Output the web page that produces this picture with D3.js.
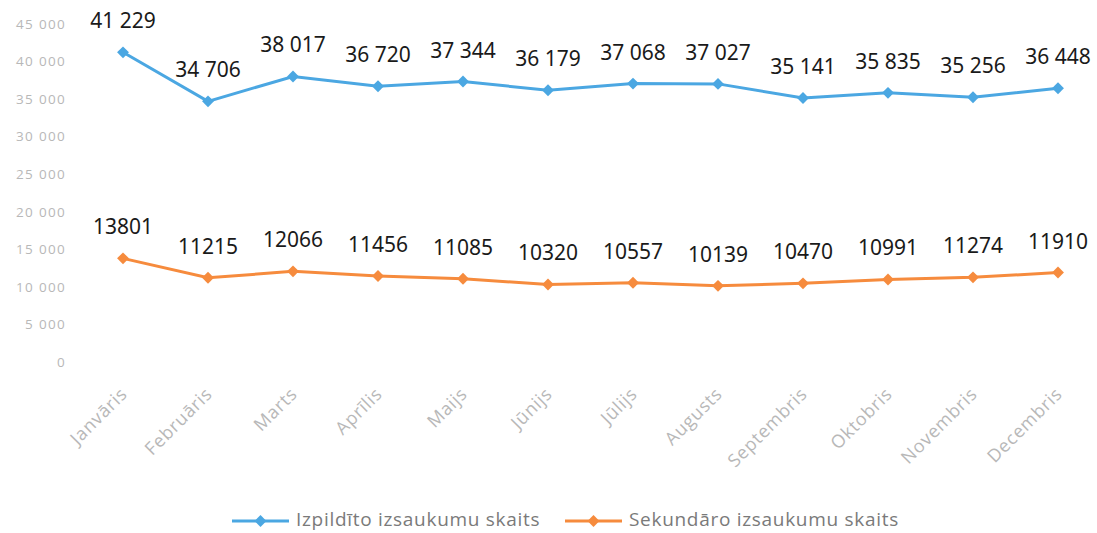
<!DOCTYPE html>
<html><head><meta charset="utf-8">
<script src="https://cdn.jsdelivr.net/npm/d3@7"></script>
<style>body{margin:0;background:#fff}svg{display:block}</style>
</head><body><svg id="c" width="1097" height="533"></svg>
<script>
const months = ["Janvāris","Februāris","Marts","Aprīlis","Maijs","Jūnijs","Jūlijs","Augusts","Septembris","Oktobris","Novembris","Decembris"];
const performed = [41229,34706,38017,36720,37344,36179,37068,37027,35141,35835,35256,36448];
const secondary = [13801,11215,12066,11456,11085,10320,10557,10139,10470,10991,11274,11910];
const performedLabels = ["41 229","34 706","38 017","36 720","37 344","36 179","37 068","37 027","35 141","35 835","35 256","36 448"];
const secondaryLabels = ["13801","11215","12066","11456","11085","10320","10557","10139","10470","10991","11274","11910"];
const yTicks = [0,5000,10000,15000,20000,25000,30000,35000,40000,45000];
const seriesNames = ["Izpildīto izsaukumu skaits","Sekundāro izsaukumu skaits"];

const svg = d3.select("#c");
const x = d3.scalePoint().domain(months).range([123,1058]);
const y = d3.scaleLinear().domain([0,45000]).range([362,24]);
const fmt = v => d3.format(",")(v).replace(/,/g," ");

// y axis
const ya = svg.append("g").attr("transform","translate(66,0)")
  .call(d3.axisLeft(y).tickValues(yTicks).tickSize(0).tickPadding(0).tickFormat(fmt));
ya.select(".domain").remove();
ya.selectAll("text").attr("font-family","Open Sans").attr("font-size",13.5)
  .attr("letter-spacing","1.3px").attr("fill","#b8b8b8");

// x axis
const xa = svg.append("g").attr("transform","translate(0,380)")
  .call(d3.axisBottom(x).tickSize(0).tickPadding(0));
xa.select(".domain").remove();
xa.selectAll("text").attr("font-family","Open Sans").attr("font-size",18).attr("fill","#b8b8b8")
  .attr("letter-spacing","0.8px")
  .attr("text-anchor","end").attr("x",0).attr("y",0).attr("dy",0)
  .attr("transform","translate(5,15) rotate(-45)");

const series = [
  {vals:performed, labels:performedLabels, color:"#4ba7e2"},
  {vals:secondary, labels:secondaryLabels, color:"#f68b3d"}
];
const diamond = d3.symbol().type(d3.symbolDiamond2).size(90);
series.forEach(s=>{
  const data = months.map((m,i)=>({m,v:s.vals[i],l:s.labels[i]}));
  svg.append("path").datum(data)
    .attr("d", d3.line().x(d=>x(d.m)).y(d=>y(d.v)))
    .attr("fill","none").attr("stroke",s.color).attr("stroke-width",3);
  svg.selectAll(null).data(data).enter().append("path")
    .attr("d",diamond).attr("transform",d=>`translate(${x(d.m)},${y(d.v)})`)
    .attr("fill",s.color);
  svg.selectAll(null).data(data).enter().append("text")
    .attr("x",d=>x(d.m)).attr("y",d=>y(d.v)-24)
    .attr("text-anchor","middle").attr("font-family","Noto Sans").attr("font-size",21)
    .attr("fill","#1a1a1a").text(d=>d.l);
});

// legend
const leg = [{x:232,name:seriesNames[0],color:"#4ba7e2"},{x:565,name:seriesNames[1],color:"#f68b3d"}];
leg.forEach(l=>{
  const g = svg.append("g").attr("transform",`translate(${l.x},521)`);
  g.append("line").attr("x1",0).attr("x2",57).attr("stroke",l.color).attr("stroke-width",3);
  g.append("path").attr("d",diamond).attr("transform","translate(28.5,0)").attr("fill",l.color);
  g.append("text").attr("x",64).attr("y",5).attr("font-family","Open Sans")
    .attr("font-size",19).attr("letter-spacing","0.7px").attr("fill","#7a7a7a").text(l.name);
});
</script></body></html>
